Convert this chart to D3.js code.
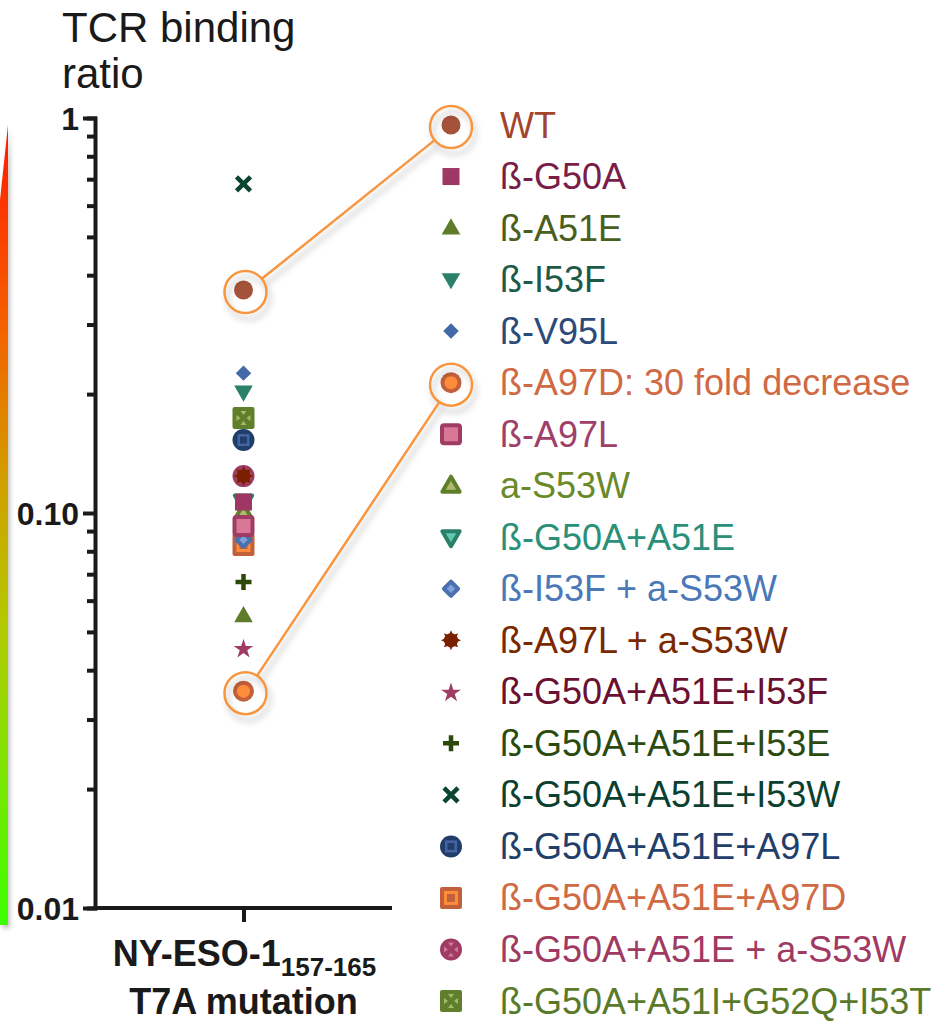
<!DOCTYPE html>
<html>
<head>
<meta charset="utf-8">
<script src="https://cdn.jsdelivr.net/npm/d3@7"></script>
<style>
  body { margin: 0; background: #fff; }
  svg { font-family: "Liberation Sans", Arial, sans-serif; }
</style>
</head>
<body>
<svg id="chart"></svg>
<script>
// data
const series = ["WT", "ß-G50A", "ß-A51E", "ß-I53F", "ß-V95L", "ß-A97D: 30 fold decrease",
  "ß-A97L", "a-S53W", "ß-G50A+A51E", "ß-I53F + a-S53W", "ß-A97L + a-S53W",
  "ß-G50A+A51E+I53F", "ß-G50A+A51E+I53E", "ß-G50A+A51E+I53W", "ß-G50A+A51E+A97L",
  "ß-G50A+A51E+A97D", "ß-G50A+A51E + a-S53W", "ß-G50A+A51I+G52Q+I53T"];
const ratios = [0.367, 0.1066, 0.0549, 0.2025, 0.226, 0.0354, 0.0927, 0.100, 0.107, 0.0855,
  0.124, 0.0455, 0.0669, 0.681, 0.153, 0.083, 0.124, 0.174];
const markers = ["circle", "square", "triangle", "triangleDown", "diamond", "ringCircle",
  "openSquare", "openTriangle", "openTriangleDown", "openDiamond", "asterisk",
  "star", "plus", "times", "circleSquare", "squareSquare", "circleArrows", "squareArrows"];
const markColors = ["#a5523a", "#9e3764", "#5e7c2a", "#2a8068", "#4469a8", "#c2603c",
  "#a03c64", "#5f7f2a", "#2a8068", "#4a70b0", "#7a2000",
  "#a03c64", "#2b4a0a", "#0b4431", "#213e6b", "#c2603c", "#a03c64", "#5f7f2a"];
const innerColors = [null, null, null, null, null, "#ff8c3a",
  "#d87896", "#b0b870", "#64c8b0", "#80a0d8", null,
  null, null, null, "#4464a4", "#ff8c3a", "#d0789a", "#a8b870"];
const textColors = ["#a3442c", "#7a1e48", "#4a5e1e", "#1e5a48", "#2c4a7a", "#d06a44",
  "#a0406a", "#6a8a2a", "#2a9078", "#4a78b8", "#7a2800",
  "#6a1030", "#2a4a10", "#0a4030", "#223e6a", "#d06a44", "#a03a62", "#5a7a2a"];
const highlighted = ["WT", "ß-A97D: 30 fold decrease"];

const yTickMajor = [1, 0.1, 0.01];
const yTickLabels = ["1", "0.10", "0.01"];
const xCategory = ["T7A"];

const width = 942, height = 1021;
const svg = d3.select("#chart").attr("width", width).attr("height", height);

const defs = svg.append("defs");
const grad = defs.append("linearGradient").attr("id", "heat")
  .attr("x1", 0).attr("y1", 0).attr("x2", 0).attr("y2", 1);
[["0%", "#ff1a00"], ["25%", "#f56000"], ["45%", "#d0a000"], ["62%", "#b4c800"],
 ["80%", "#80e400"], ["100%", "#3cff00"]].forEach(s =>
  grad.append("stop").attr("offset", s[0]).attr("stop-color", s[1]));

const shadow = defs.append("filter").attr("id", "shadow")
  .attr("x", "-50%").attr("y", "-50%").attr("width", "200%").attr("height", "200%");
shadow.append("feDropShadow").attr("dx", 3).attr("dy", 6)
  .attr("stdDeviation", 3).attr("flood-color", "#000").attr("flood-opacity", 0.25);

const barShadow = defs.append("filter").attr("id", "barShadow")
  .attr("x", "-100%").attr("y", "-5%").attr("width", "300%").attr("height", "110%");
barShadow.append("feDropShadow").attr("dx", 2).attr("dy", 3)
  .attr("stdDeviation", 2).attr("flood-color", "#000").attr("flood-opacity", 0.25);

// heat bar on the left edge
svg.append("path")
  .attr("d", "M0,200 L8,125 L8,925 L0,925 Z")
  .attr("fill", "url(#heat)")
  .attr("filter", "url(#barShadow)");

// scales
const y = d3.scaleLog().domain([0.01, 1]).range([908, 118]);
const x = d3.scalePoint().domain(xCategory).range([95, 392]).padding(0.5);

const minorTicks = [];
[0.01, 0.1].forEach(dec => d3.range(2, 10).forEach(k => minorTicks.push(dec * k)));

// y axis
const yAxis = svg.append("g")
  .attr("transform", "translate(95,0)")
  .call(d3.axisLeft(y).tickValues(yTickMajor.concat(minorTicks))
    .tickSizeOuter(0).tickSize(8).tickFormat(""));
yAxis.select(".domain").attr("stroke", "#1a1a1a").attr("stroke-width", 4);
yAxis.selectAll(".tick line").attr("stroke", "#1a1a1a").attr("stroke-width", 4)
  .attr("x1", 2)
  .attr("x2", d => yTickMajor.some(m => Math.abs(m - d) < 1e-9) ? -12 : -8);

yTickMajor.forEach((v, i) => {
  svg.append("text")
    .attr("x", 79).attr("y", y(v) + 12)
    .attr("text-anchor", "end")
    .attr("font-weight", "bold").attr("font-size", 32)
    .attr("fill", "#1a1a1a")
    .text(yTickLabels[i]);
});

// x axis
const xAxis = svg.append("g")
  .attr("transform", "translate(0,908)")
  .call(d3.axisBottom(x).tickSizeOuter(0).tickSize(14).tickFormat(""));
xAxis.select(".domain").attr("stroke", "#1a1a1a").attr("stroke-width", 4)
  .attr("d", "M93,0H392");
xAxis.selectAll(".tick line").attr("stroke", "#1a1a1a").attr("stroke-width", 4);

const xl = svg.append("text")
  .attr("x", x("T7A") + 1).attr("y", 966)
  .attr("text-anchor", "middle")
  .attr("font-weight", "bold").attr("font-size", 36).attr("fill", "#1a1a1a");
xl.append("tspan").text("NY-ESO-1");
xl.append("tspan").attr("font-size", 26).attr("dy", 10).text("157-165");
svg.append("text")
  .attr("x", x("T7A")).attr("y", 1014)
  .attr("text-anchor", "middle")
  .attr("font-weight", "bold").attr("font-size", 36).attr("fill", "#1a1a1a")
  .text("T7A mutation");

// axis title
svg.append("text").attr("x", 62).attr("y", 42)
  .attr("font-size", 42).attr("fill", "#1a1a1a").text("TCR binding");
svg.append("text").attr("x", 62).attr("y", 88)
  .attr("font-size", 42).attr("fill", "#1a1a1a").text("ratio");

// marker drawing
function sym(type, size) {
  return d3.symbol().type(type).size(size)();
}
function drawMarker(g, type, c, inner) {
  switch (type) {
    case "circle":
      g.append("circle").attr("r", 9.5).attr("fill", c); break;
    case "square":
      g.append("rect").attr("x", -8.5).attr("y", -8.5).attr("width", 17).attr("height", 17).attr("fill", c); break;
    case "triangle":
      g.append("path").attr("d", sym(d3.symbolTriangle, 150)).attr("transform", "translate(0,1)").attr("fill", c); break;
    case "triangleDown":
      g.append("path").attr("d", sym(d3.symbolTriangle, 150)).attr("transform", "translate(0,-1) rotate(180)").attr("fill", c); break;
    case "diamond":
      g.append("path").attr("d", sym(d3.symbolSquare, 120)).attr("transform", "rotate(45)").attr("fill", c); break;
    case "ringCircle":
      g.append("circle").attr("r", 10.5).attr("fill", c);
      g.append("circle").attr("r", 6.5).attr("fill", inner); break;
    case "openSquare":
      g.append("rect").attr("x", -9).attr("y", -9).attr("width", 18).attr("height", 18).attr("rx", 2)
        .attr("fill", inner).attr("stroke", c).attr("stroke-width", 4); break;
    case "openTriangle":
      g.append("path").attr("d", sym(d3.symbolTriangle, 130)).attr("transform", "translate(0,1)")
        .attr("fill", inner).attr("stroke", c).attr("stroke-width", 4).attr("stroke-linejoin", "round"); break;
    case "openTriangleDown":
      g.append("path").attr("d", sym(d3.symbolTriangle, 130)).attr("transform", "translate(0,-1) rotate(180)")
        .attr("fill", inner).attr("stroke", c).attr("stroke-width", 4).attr("stroke-linejoin", "round"); break;
    case "openDiamond":
      g.append("path").attr("d", sym(d3.symbolSquare, 100)).attr("transform", "rotate(45)")
        .attr("fill", inner).attr("stroke", c).attr("stroke-width", 4).attr("stroke-linejoin", "round"); break;
    case "asterisk": {
      const pts = d3.range(24).map(i => [i * Math.PI * 2 / 24, i % 3 === 0 ? 10 : 6.5]);
      g.append("path").attr("d", d3.lineRadial().curve(d3.curveLinearClosed)(pts)).attr("fill", c);
      g.append("circle").attr("r", 7).attr("fill", c);
      break;
    }
    case "star":
      g.append("path").attr("d", sym(d3.symbolStar, 120)).attr("transform", "translate(0,1)").attr("fill", c); break;
    case "plus":
      g.append("path").attr("d", "M-8,0H8M0,-8V8").attr("stroke", c).attr("stroke-width", 4.5); break;
    case "times":
      g.append("path").attr("d", "M-7,-7L7,7M7,-7L-7,7").attr("stroke", c).attr("stroke-width", 4.5); break;
    case "circleSquare":
      g.append("circle").attr("r", 11).attr("fill", c);
      g.append("rect").attr("x", -6).attr("y", -6).attr("width", 12).attr("height", 12).attr("fill", inner);
      g.append("rect").attr("x", -3.5).attr("y", -3.5).attr("width", 7).attr("height", 7).attr("fill", c); break;
    case "squareSquare":
      g.append("rect").attr("x", -11).attr("y", -11).attr("width", 22).attr("height", 22).attr("rx", 2).attr("fill", c);
      g.append("rect").attr("x", -7).attr("y", -7).attr("width", 14).attr("height", 14).attr("fill", inner);
      g.append("rect").attr("x", -4).attr("y", -4).attr("width", 8).attr("height", 8).attr("fill", c); break;
    case "circleArrows":
    case "squareArrows": {
      if (type === "circleArrows") g.append("circle").attr("r", 11).attr("fill", c);
      else g.append("rect").attr("x", -11).attr("y", -11).attr("width", 22).attr("height", 22).attr("rx", 2).attr("fill", c);
      [0, 90, 180, 270].forEach(a =>
        g.append("path").attr("d", "M-3,-7L3,-7L0,-3Z").attr("fill", inner).attr("transform", `rotate(${a})`));
      break;
    }
  }
}

// legend
const legendY = d3.scalePoint().domain(series).range([125, 1001]);
const legend = svg.append("g");
series.forEach((s, i) => {
  const g = legend.append("g").attr("transform", `translate(451,${legendY(s)})`);
  drawMarker(g, markers[i], markColors[i], innerColors[i]);
  legend.append("text")
    .attr("x", 500).attr("y", legendY(s) + 12.5)
    .attr("font-size", 36).attr("fill", textColors[i])
    .text(s);
});

// points: first series ends up on top
const pts = svg.append("g");
d3.range(series.length).reverse().forEach(i => {
  const g = pts.append("g").attr("transform", `translate(${x("T7A")},${y(ratios[i])})`);
  drawMarker(g, markers[i], markColors[i], innerColors[i]);
});

// call-outs linking the highlighted points to their legend entries
const callR = 21;
const callouts = svg.append("g").attr("filter", "url(#shadow)");
highlighted.forEach(name => {
  const i = series.indexOf(name);
  const p1 = [x("T7A") + 2, y(ratios[i]) + 2];
  const p2 = [451, legendY(name) + 2];
  const dx = p2[0] - p1[0], dy = p2[1] - p1[1], len = Math.hypot(dx, dy);
  callouts.append("line")
    .attr("x1", p1[0] + dx / len * callR).attr("y1", p1[1] + dy / len * callR)
    .attr("x2", p2[0] - dx / len * callR).attr("y2", p2[1] - dy / len * callR)
    .attr("stroke", "#f7953f").attr("stroke-width", 2.5);
  [p1, p2].forEach(p => callouts.append("circle")
    .attr("cx", p[0]).attr("cy", p[1]).attr("r", callR)
    .attr("fill", "none").attr("stroke", "#f7953f").attr("stroke-width", 2.5));
});
</script>
</body>
</html>
